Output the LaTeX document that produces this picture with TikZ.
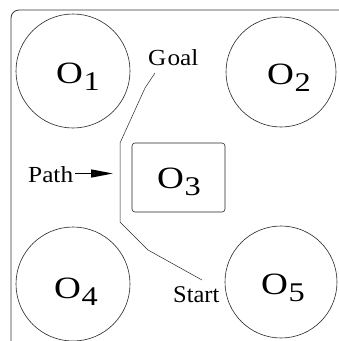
\documentclass[tikz,border=0pt]{standalone}
\usepackage{fontspec}
\setmainfont{Liberation Serif}
\usepackage{graphicx}
\usetikzlibrary{arrows.meta}
\newcommand\wide[2]{\scalebox{#1}[1]{#2}}
\newcommand\obst[1]{\wide{1.2}{\fontsize{31}{31}\selectfont O\kern0.5pt\raisebox{-7pt}{\fontsize{27}{27}\selectfont #1}}}
\tikzset{
  obstacle/.style={draw=black!85, line width=0.6pt},
  olabel/.style={inner sep=0pt, anchor=base west},
  txt/.style={inner sep=0pt, anchor=base west, font=\fontsize{23}{23}\selectfont},
  route/.style={draw=black!85, line width=0.5pt},
}
\begin{document}
\begin{tikzpicture}[x=1pt,y=-1pt]
  \useasboundingbox (0,0) rectangle (339,341);
  % workspace border
  \draw[line width=0.8pt, black!80, rounded corners=8pt] (11,341) -- (11,10) -- (339,10);
  % circular obstacles
  \draw[obstacle] (73,71) circle[radius=57];
  \draw[obstacle] (281,72) circle[radius=55];
  \draw[obstacle] (73,284) circle[radius=57];
  \draw[obstacle] (281,282) circle[radius=56];
  % rectangular obstacle
  \draw[obstacle, rounded corners=3pt] (132,143) rectangle (225,212);
  % obstacle labels
  \node[olabel] (o1) at (56,83) {\obst{1}};
  \node[olabel] (o2) at (267,84) {\obst{2}};
  \node[olabel] (o3) at (157,188) {\obst{3}};
  \node[olabel] (o4) at (54,298) {\obst{4}};
  \node[olabel] (o5) at (261,294) {\obst{5}};
  % end labels
  \node[txt] (goal) at (148,65) {\wide{1.1}{G\kern1pt oal}};
  \node[txt, font=\fontsize{24}{24}\selectfont] (start) at (173,302) {\wide{1.02}{Start}};
  \node[txt] (pathlbl) at (28,182) {\wide{1.1}{Path}};
  % planned route
  \coordinate (p1) at (155,73);
  \coordinate (p2) at (145,88);
  \coordinate (p3) at (120,143);
  \coordinate (p4) at (120,222);
  \coordinate (p5) at (148,250);
  \coordinate (p6) at (202,280);
  \draw[route] (p1) -- (p2) -- (p3) -- (p4) -- (p5) -- (p6);
  % pointer to the route
  \coordinate (tip) at (113,173.5);
  \draw[line width=1.6pt, -{Triangle[length=22pt,width=8pt]}] (pathlbl.east |- tip) ++(2,0) -- (tip);
\end{tikzpicture}
\end{document}
